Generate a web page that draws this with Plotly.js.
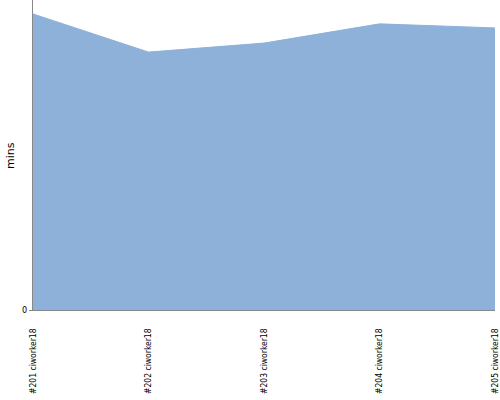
<!DOCTYPE html>
<html><head><meta charset="utf-8">
<script src="https://cdn.plot.ly/plotly-3.0.1.min.js"></script>
<style>body{margin:0;background:#fff}</style>
</head><body>
<div id="chart" style="width:500px;height:400px"></div>
<script>
const builds = ["#201 ciworker18", "#202 ciworker18", "#203 ciworker18", "#204 ciworker18", "#205 ciworker18"];
const mins = [9.55, 8.32, 8.61, 9.23, 9.10];
const yTickVals = [0];
const yTickText = ["0"];
const yTitle = "mins";

Plotly.newPlot("chart", [{
  x: builds, y: mins, type: "scatter", mode: "lines",
  fill: "tozeroy", fillcolor: "#8EB1DA",
  line: {color: "#8EB1DA", width: 1}, hoverinfo: "skip"
}], {
  width: 500, height: 400,
  margin: {l: 33, r: 5, t: 0, b: 90, pad: 0},
  paper_bgcolor: "#fff", plot_bgcolor: "#fff",
  showlegend: false,
  font: {family: "DejaVu Sans Condensed, sans-serif", size: 10, color: "#000"},
  xaxis: {
    type: "category", range: [0, 4], tickangle: -90,
    showline: true, linecolor: "#888", linewidth: 1,
    showgrid: false, zeroline: false, ticks: "", automargin: false,
    ticklabelstandoff: 14,
    tickfont: {size: 8.5}
  },
  yaxis: {
    range: [0, 10], tickvals: yTickVals, ticktext: yTickText,
    showline: true, linecolor: "#888", linewidth: 1,
    showgrid: false, zeroline: false, ticks: "outside", ticklen: 3, tickcolor: "#888",
    automargin: false, tickfont: {size: 9}
  },
  annotations: [{
    text: yTitle, xref: "paper", yref: "paper", x: -0.05, y: 0.5,
    xanchor: "center", yanchor: "middle", textangle: -90, showarrow: false,
    font: {size: 11, family: "DejaVu Sans, sans-serif", color: "#000"}
  }]
}, {displayModeBar: false, staticPlot: true});
</script>
</body></html>
